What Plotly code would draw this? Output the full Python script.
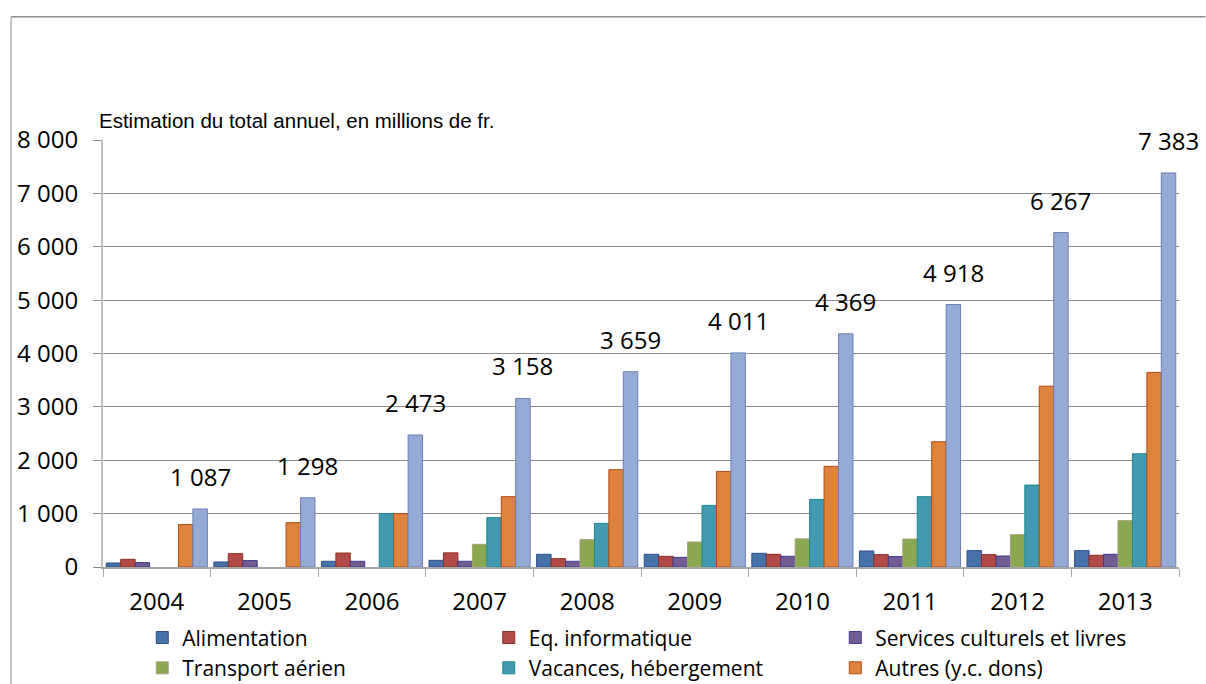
import plotly.graph_objects as go

# Annual totals (millions of francs) by spending category
years = ["2004", "2005", "2006", "2007", "2008", "2009", "2010", "2011", "2012", "2013"]
alimentation = [75, 94, 107, 125, 238, 238, 256, 300, 307, 307]
eq_informatique = [144, 250, 262, 265, 157, 200, 238, 232, 232, 219]
services_culturels = [82, 120, 107, 107, 107, 180, 200, 195, 206, 238]
transport_aerien = [None, None, None, 425, 513, 468, 528, 524, 606, 869]
vacances = [None, None, 1000, 925, 818, 1155, 1267, 1318, 1535, 2122]
autres = [794, 831, 1000, 1318, 1823, 1791, 1885, 2347, 3388, 3645]
total = [1087, 1298, 2473, 3158, 3659, 4011, 4369, 4918, 6267, 7383]

y_ticks = [0, 1000, 2000, 3000, 4000, 5000, 6000, 7000, 8000]

series = [
    ("Alimentation", alimentation, "#4672AA", "#2F4E8C"),
    ("Eq. informatique", eq_informatique, "#B24A47", "#8E2E22"),
    ("Services culturels et livres", services_culturels, "#735B93", "#3E3A8E"),
    ("Transport aérien", transport_aerien, "#8AA84F", "#A7A27A"),
    ("Vacances, hébergement", vacances, "#4299B2", "#1E8A90"),
    ("Autres (y.c. dons)", autres, "#DD833E", "#B04A16"),
]

FONT = "Open Sans"
PLOT_W = 1076.5
PLOT_H = 427.5

def fmt(v):
    return f"{v:,}".replace(",", " ")

fig = go.Figure()
for name, vals, fill, edge in series:
    fig.add_trace(go.Bar(
        x=years, y=vals, name=name,
        marker=dict(color=fill, line=dict(color=edge, width=1)),
    ))
fig.add_trace(go.Bar(
    x=years, y=total, name="Total", showlegend=False,
    marker=dict(color="#95AAD4", line=dict(color="#6F7FB5", width=1)),
))

# value labels above the total bars (7th bar of each group)
bar_w = PLOT_W / len(years) * 0.94 / 7
for i, v in enumerate(total):
    fig.add_annotation(
        x=i, y=v, text=fmt(v), showarrow=False,
        xshift=3 * bar_w, yshift=14, yanchor="bottom",
        font=dict(family=FONT, size=24, color="#000000"),
    )

fig.add_annotation(
    xref="paper", yref="paper", x=-0.006, y=1.0, xanchor="left", yanchor="bottom",
    yshift=6, text="Estimation du total annuel, en millions de fr.", showarrow=False,
    font=dict(family="Liberation Sans", size=20.5, color="#000000"),
)

# outer chart frame
fx = (11 - 103) / PLOT_W
fy = (567 - 16) / PLOT_H
fig.add_shape(type="line", xref="paper", yref="paper",
              x0=fx, x1=(1206 - 103) / PLOT_W, y0=fy, y1=fy,
              line=dict(color="#8C8C8C", width=1.5))
fig.add_shape(type="line", xref="paper", yref="paper",
              x0=fx, x1=fx, y0=fy, y1=(567 - 690) / PLOT_H,
              line=dict(color="#B0B0B0", width=1.5))

fig.update_layout(
    width=1206, height=684,
    margin=dict(l=103, r=26.5, t=139.5, b=117, pad=0, autoexpand=False),
    paper_bgcolor="white", plot_bgcolor="white",
    separators=", ",
    barmode="group", bargap=0.06, bargroupgap=0,
    font=dict(family=FONT, color="#000000"),
    legend=dict(
        orientation="h", x=0.0365, y=-0.118, xanchor="left", yanchor="top",
        entrywidth=301.5, entrywidthmode="pixels", traceorder="normal",
        font=dict(family=FONT, size=21, color="#000000"),
        itemwidth=30, tracegroupgap=0,
    ),
)
fig.update_xaxes(
    type="category", range=[-0.5, len(years) - 0.5], automargin=False,
    showline=True, linecolor="#A6A6A6", linewidth=1.5,
    ticks="outside", tickson="boundaries", ticklen=8, tickcolor="#A6A6A6",
    tickfont=dict(family=FONT, size=24, color="#000000"), tickangle=0,
    ticklabelstandoff=12, showgrid=False,
)
fig.update_yaxes(
    range=[0, 8000], tickvals=y_ticks, ticktext=[fmt(v) for v in y_ticks],
    automargin=False,
    showgrid=True, gridcolor="#8A8A8A", gridwidth=1,
    showline=True, linecolor="#BFBFBF", linewidth=2,
    ticks="outside", ticklen=8, tickcolor="#8A8A8A",
    tickfont=dict(family=FONT, size=24, color="#000000"),
    ticklabelstandoff=10, zeroline=False,
)

fig.write_html("out.html")
